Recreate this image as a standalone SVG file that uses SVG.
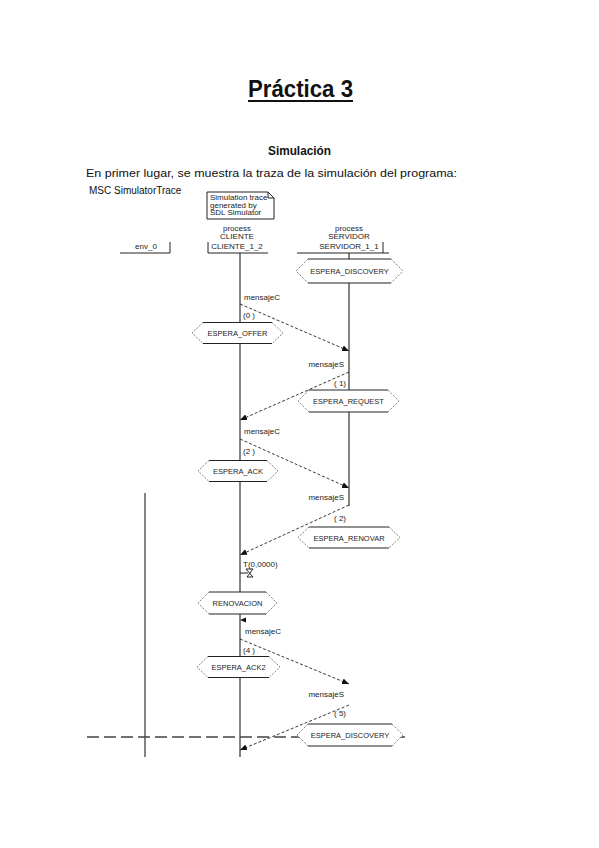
<svg xmlns="http://www.w3.org/2000/svg" width="599" height="848" viewBox="0 0 599 848">
<style>
.doc{font-family:"Liberation Sans",Arial,sans-serif;fill:#111}
.msc{font-family:"Liberation Sans",Arial,sans-serif;font-size:8px;fill:#222}
.st{font-family:"Liberation Sans",Arial,sans-serif;font-size:7.5px;fill:#222;text-anchor:middle}
.ln{stroke:#222;stroke-width:1;fill:none}
.life{stroke:#333;stroke-width:1.2;fill:none}
.hexfill{fill:#fff;stroke:none}
.hexsolid{stroke:#222;stroke-width:1;fill:none}
.hexdot{stroke:#444;stroke-width:0.9;fill:none;stroke-dasharray:1 1.3}
.msg{stroke:#222;stroke-width:0.9;fill:none;stroke-dasharray:3 2;marker-end:url(#ah)}
</style>
<defs>
<marker id="ah" markerUnits="userSpaceOnUse" markerWidth="8" markerHeight="6" refX="7" refY="3" orient="auto">
<path d="M0,0 L7,3 L0,6 Z" fill="#111"/>
</marker>
</defs>
<rect width="599" height="848" fill="#fff"/>

<g id="header-text">
<text class="doc" x="248" y="97" font-size="24" font-weight="bold" textLength="105" lengthAdjust="spacingAndGlyphs">Práctica 3</text>
<line x1="248" y1="101" x2="353" y2="101" stroke="#111" stroke-width="1.8"/>
<text class="doc" x="268" y="155" font-size="12" font-weight="bold" textLength="63" lengthAdjust="spacingAndGlyphs">Simulación</text>
<text class="doc" x="86" y="177" font-size="11" textLength="371" lengthAdjust="spacingAndGlyphs">En primer lugar, se muestra la traza de la simulación del programa:</text>
<text class="doc" x="89" y="194" font-size="10" fill="#222">MSC SimulatorTrace</text>
</g>

<g id="note">
<path class="ln" d="M207,192 L268,192 L274,198 L274,219 L207,219 Z M268,192 L268,198 L274,198" stroke-width="0.9"/>
<text class="msc" x="210" y="200" font-size="7">Simulation trace</text>
<text class="msc" x="210" y="207.5" font-size="7">generated by</text>
<text class="msc" x="210" y="215" font-size="7">SDL Simulator</text>
</g>

<g id="env_0">
<path class="ln" d="M120,253 L170,253 L170,242"/>
<text class="msc" x="146" y="249" text-anchor="middle">env_0</text>
<line class="life" x1="145" y1="493" x2="145" y2="757"/>
</g>

<g id="cliente">
<path class="ln" d="M208,242 L208,253 L268,253"/>
<text class="msc" x="237" y="231" text-anchor="middle">process</text>
<text class="msc" x="237" y="239" text-anchor="middle">CLIENTE</text>
<text class="msc" x="237" y="249" text-anchor="middle">CLIENTE_1_2</text>
<line class="life" x1="240" y1="253" x2="240" y2="757"/>
</g>

<g id="servidor">
<path class="ln" d="M297,253 L389,253 M383,242 L383,253"/>
<text class="msc" x="349" y="231" text-anchor="middle">process</text>
<text class="msc" x="349" y="239" text-anchor="middle">SERVIDOR</text>
<text class="msc" x="349" y="249" text-anchor="middle">SERVIDOR_1_1</text>
<line class="life" x1="349" y1="253" x2="349" y2="506"/>
</g>

<g id="cut-line">
<line x1="87" y1="737" x2="409" y2="737" stroke="#444" stroke-width="1.3" stroke-dasharray="12 5"/>
</g>

<g id="state-discovery-1">
<polygon class="hexfill" points="296,271 308,259 391,259 403,271 391,283 308,283"/>
<path class="hexsolid" d="M308,259 L391,259 M308,283 L391,283"/>
<path class="hexdot" d="M308,259 L296,271 L308,283 M391,259 L403,271 L391,283"/>
<text class="st" x="349.5" y="274">ESPERA_DISCOVERY</text>
</g>

<g id="state-offer">
<polygon class="hexfill" points="192,333 203,322.5 272,322.5 283,333 272,343.5 203,343.5"/>
<path class="hexsolid" d="M203,322.5 L272,322.5 M203,343.5 L272,343.5"/>
<path class="hexdot" d="M203,322.5 L192,333 L203,343.5 M272,322.5 L283,333 L272,343.5"/>
<text class="st" x="237.5" y="336">ESPERA_OFFER</text>
</g>

<g id="state-request">
<polygon class="hexfill" points="298,401 309,390 388,390 399,401 388,412 309,412"/>
<path class="hexsolid" d="M309,390 L388,390 M309,412 L388,412"/>
<path class="hexdot" d="M309,390 L298,401 L309,412 M388,390 L399,401 L388,412"/>
<text class="st" x="348.5" y="404">ESPERA_REQUEST</text>
</g>

<g id="state-ack">
<polygon class="hexfill" points="198,471 209,460.5 267,460.5 278,471 267,481.5 209,481.5"/>
<path class="hexsolid" d="M209,460.5 L267,460.5 M209,481.5 L267,481.5"/>
<path class="hexdot" d="M209,460.5 L198,471 L209,481.5 M267,460.5 L278,471 L267,481.5"/>
<text class="st" x="238" y="474">ESPERA_ACK</text>
</g>

<g id="state-renovar">
<polygon class="hexfill" points="298,537.5 309,527 389,527 400,537.5 389,548 309,548"/>
<path class="hexsolid" d="M309,527 L389,527 M309,548 L389,548"/>
<path class="hexdot" d="M309,527 L298,537.5 L309,548 M389,527 L400,537.5 L389,548"/>
<text class="st" x="349" y="540.5">ESPERA_RENOVAR</text>
</g>

<g id="timer">
<text class="msc" x="243" y="567">T(0,0000)</text>
<path class="ln" d="M240,573 L248,573 M246,569 L253,569 L247,577 L253,577 Z" stroke-width="0.9"/>
</g>

<g id="state-renovacion">
<polygon class="hexfill" points="198,603 209,592 266,592 277,603 266,614 209,614"/>
<path class="hexsolid" d="M209,592 L266,592 M209,614 L266,614"/>
<path class="hexdot" d="M209,592 L198,603 L209,614 M266,592 L277,603 L266,614"/>
<text class="st" x="237.5" y="606">RENOVACION</text>
</g>

<g id="timeout-mark">
<polygon points="240,620 246,617.5 246,622.5" fill="#111"/>
</g>

<g id="state-ack2">
<polygon class="hexfill" points="197,667 208,656.5 269,656.5 280,667 269,677.5 208,677.5"/>
<path class="hexsolid" d="M208,656.5 L269,656.5 M208,677.5 L269,677.5"/>
<path class="hexdot" d="M208,656.5 L197,667 L208,677.5 M269,656.5 L280,667 L269,677.5"/>
<text class="st" x="238.5" y="670">ESPERA_ACK2</text>
</g>

<g id="state-discovery-2">
<polygon class="hexfill" points="297,735 308,724 392,724 403,735 392,746 308,746"/>
<path class="hexsolid" d="M308,724 L392,724 M308,746 L392,746"/>
<path class="hexdot" d="M308,724 L297,735 L308,746 M392,724 L403,735 L392,746"/>
<text class="st" x="350" y="738">ESPERA_DISCOVERY</text>
</g>

<g id="connectors">
<path class="msg" d="M240,304 L349,351"/>
<text class="msc" x="244" y="300">mensajeC</text>
<text class="msc" x="243" y="318">(0  )</text>

<path class="msg" d="M349,372 L240,420"/>
<text class="msc" x="344" y="367" text-anchor="end">mensajeS</text>
<text class="msc" x="346" y="386" text-anchor="end">( 1)</text>

<path class="msg" d="M240,439 L349,488"/>
<text class="msc" x="244" y="434">mensajeC</text>
<text class="msc" x="243" y="454">(2  )</text>

<path class="msg" d="M349,505 L240,555"/>
<text class="msc" x="344" y="500" text-anchor="end">mensajeS</text>
<text class="msc" x="346" y="521" text-anchor="end">( 2)</text>

<path class="msg" d="M240,639 L349,684"/>
<text class="msc" x="245" y="634">mensajeC</text>
<text class="msc" x="243" y="653">(4  )</text>

<path class="msg" d="M349,705 L240,750"/>
<text class="msc" x="344" y="697" text-anchor="end">mensajeS</text>
<text class="msc" x="346" y="716" text-anchor="end">( 5)</text>
</g>
</svg>
